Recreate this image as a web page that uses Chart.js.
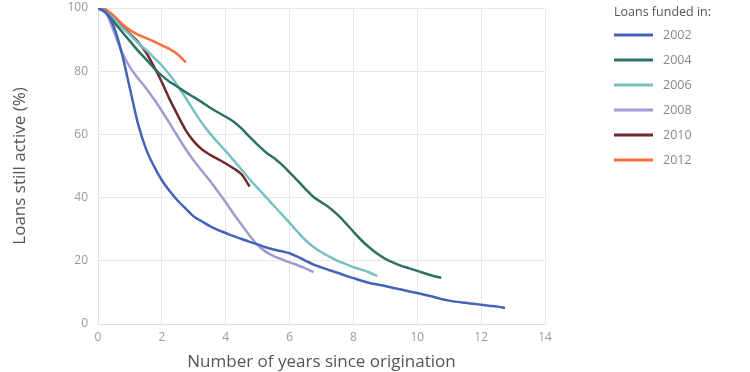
<!DOCTYPE html>
<html>
<head>
<meta charset="utf-8">
<script src="https://cdn.jsdelivr.net/npm/chart.js@4.4.1/dist/chart.umd.min.js"></script>
<style>
  html, body { margin: 0; padding: 0; background: #fff; }
  #wrap { width: 750px; height: 372px; }
</style>
</head>
<body>
<div id="wrap"><canvas id="chartCanvas" width="750" height="372"></canvas></div>
<script>
// years since origination, quarterly
const years = [];
for (let i = 0; i <= 51; i++) years.push(i / 4);

const cohorts = ['2002', '2004', '2006', '2008', '2010', '2012'];

const active2002 = [100, 98.5, 94, 85.5, 74.5, 63.5, 55.5, 50, 45.5, 42, 39, 36.5, 34, 32.5, 31, 29.8,
  28.8, 27.8, 26.9, 26, 25.2, 24.3, 23.6, 23, 22.4, 21.3, 20, 18.8, 17.9, 17, 16.2, 15.3,
  14.5, 13.7, 13, 12.5, 12, 11.4, 10.9, 10.3, 9.8, 9.2, 8.6, 7.9, 7.4, 7, 6.7, 6.4, 6.1, 5.8, 5.5, 5.1];
const active2004 = [100, 98.5, 95.5, 92.5, 89.5, 86.5, 83.8, 81, 78.6, 76.6, 75, 73.3, 71.8, 70.2, 68.5, 67,
  65.6, 64, 61.8, 59.2, 56.7, 54.4, 52.6, 50.5, 48, 45.4, 42.7, 40.2, 38.5, 36.8, 34.6, 32,
  29.2, 26.5, 24.2, 22.2, 20.6, 19.4, 18.4, 17.6, 16.8, 16, 15.2, 14.6];
const active2006 = [100, 98.8, 96.5, 93.8, 91.5, 89, 86.8, 84.3, 81.8, 78.8, 75.3, 71.5, 67.5, 63.7, 60.4, 57.5,
  54.7, 51.8, 48.8, 45.8, 43, 40.3, 37.5, 34.8, 32, 29.2, 26.5, 24.4, 22.7, 21.3, 20, 19,
  18, 17.2, 16.3, 15.2];
const active2008 = [100, 98.5, 92.5, 86, 81.3, 77.8, 74.7, 71.2, 67.4, 63.4, 59.3, 55.3, 51.7, 48.5, 45.4, 42,
  38.5, 34.8, 31.4, 28, 25, 22.9, 21.5, 20.5, 19.5, 18.6, 17.6, 16.4];
const active2010 = [100, 98.8, 96.5, 94, 91.8, 89.3, 86, 81.5, 76.5, 71, 66, 61.3, 57.8, 55.3, 53.6, 52.2,
  50.8, 49.2, 47.3, 43.5];
const active2012 = [100, 99.5, 97.5, 95, 93, 91.6, 90.5, 89.4, 88.2, 87, 85.3, 82.8];

const seriesValues = [active2002, active2004, active2006, active2008, active2010, active2012];
const colors = ['#4563b8', '#2b7264', '#78c1c3', '#a39ad3', '#6f2a2c', '#ff6e40'];

const xTicks = [0, 2, 4, 6, 8, 10, 12, 14];
const yTicks = [0, 20, 40, 60, 80, 100];

const FONT = "'Open Sans', 'DejaVu Sans', sans-serif";

// simple legend drawn on the canvas, to the right of the plot
const sideLegend = {
  id: 'sideLegend',
  afterDraw(chart) {
    const ctx = chart.ctx;
    const x0 = chart.chartArea.right + 69;
    ctx.save();
    ctx.textBaseline = 'middle';
    ctx.textAlign = 'left';
    ctx.font = '12.5px ' + FONT;
    ctx.fillStyle = '#555';
    ctx.fillText('Loans funded in:', x0, 12);
    chart.data.datasets.forEach((ds, i) => {
      const y = 35 + i * 25;
      ctx.strokeStyle = ds.borderColor;
      ctx.lineWidth = 3;
      ctx.beginPath();
      ctx.moveTo(x0, y);
      ctx.lineTo(x0 + 39, y);
      ctx.stroke();
      ctx.fillStyle = '#888';
      ctx.fillText(ds.label, x0 + 49, y);
    });
    ctx.restore();
  }
};

const datasets = cohorts.map((c, i) => ({
  label: c,
  data: seriesValues[i].map((v, j) => ({ x: years[j], y: v })),
  borderColor: colors[i],
  backgroundColor: colors[i],
  borderWidth: 2.5,
  pointRadius: 0,
  pointHoverRadius: 0,
  cubicInterpolationMode: 'monotone',
  fill: false
}));

const ctx = document.getElementById('chartCanvas').getContext('2d');
new Chart(ctx, {
  type: 'line',
  data: { datasets: datasets },
  options: {
    responsive: false,
    animation: false,
    layout: { autoPadding: false, padding: { top: 8, right: 205, left: 0, bottom: 0 } },
    plugins: {
      legend: { display: false },
      tooltip: { enabled: false }
    },
    scales: {
      x: {
        type: 'linear',
        min: 0,
        max: 14,
        afterBuildTicks: (scale) => { scale.ticks = xTicks.map(v => ({ value: v })); },
        afterFit: (scale) => { scale.height = 48; },
        grid: { color: '#e8e8e8', lineWidth: 1, drawTicks: false },
        border: { color: '#e0e0e0' },
        ticks: { color: '#999', font: { family: FONT, size: 12 }, padding: 6 },
        title: {
          display: true,
          text: 'Number of years since origination',
          color: '#555',
          font: { family: FONT, size: 17 },
          padding: { top: 2, bottom: 0 }
        }
      },
      y: {
        type: 'linear',
        min: 0,
        max: 100,
        afterBuildTicks: (scale) => { scale.ticks = yTicks.map(v => ({ value: v })); },
        afterFit: (scale) => {
          scale.width = 98;
          scale.paddingTop = 0;
          scale.paddingBottom = 0;
        },
        grid: { color: '#e8e8e8', lineWidth: 1, drawTicks: false },
        border: { color: '#e0e0e0' },
        ticks: { color: '#999', font: { family: FONT, size: 12 }, padding: 10 },
        title: {
          display: true,
          text: 'Loans still active (%)',
          color: '#555',
          font: { family: FONT, size: 17 },
          padding: { top: 10, bottom: 0 }
        }
      }
    }
  },
  plugins: [sideLegend]
});
</script>
</body>
</html>
